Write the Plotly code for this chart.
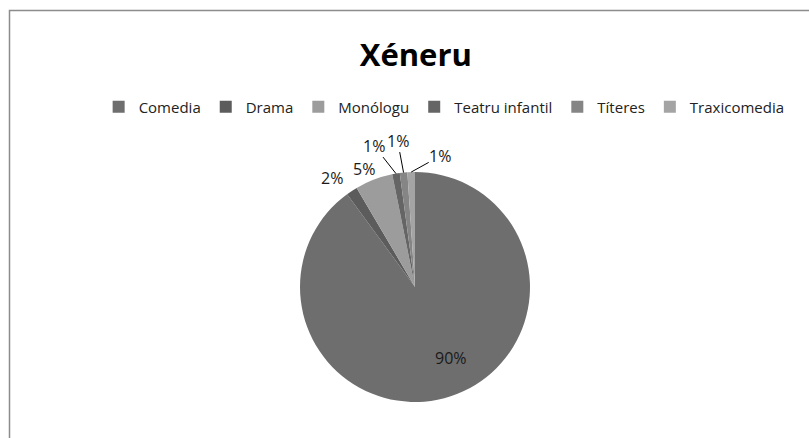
import math
import plotly.graph_objects as go

categories = ["Comedia", "Drama", "Monólogu", "Teatru infantil", "Títeres", "Traxicomedia"]
values = [170, 3, 10, 2, 2, 2]
colors = ["#6e6e6e", "#5c5c5c", "#9c9c9c", "#656565", "#858585", "#a4a4a4"]
title_text = "Xéneru"

# label placement (pixel offsets of each percentage label from its slice rim point)
label_dx = [0, -20, -10, -22, -6, 29]
label_dy = [-38, -13, -11, -28, -32, -16]
label_line = [False, False, False, True, True, True]

W, H = 809, 438
FONT = "Open Sans"

# pie domain in pixels
px0, px1 = 300, 530
py_top, py_bot = 172, 402
dom_x = [px0 / W, px1 / W]
dom_y = [(H - py_bot) / H, (H - py_top) / H]
cx, cy = (px0 + px1) / 2, (py_top + py_bot) / 2
R = min(px1 - px0, py_bot - py_top) / 2

fig = go.Figure()
fig.add_trace(go.Pie(
    labels=categories,
    values=values,
    marker=dict(colors=colors, line=dict(width=0)),
    sort=False,
    direction="clockwise",
    rotation=0,
    textinfo="none",
    domain=dict(x=dom_x, y=dom_y),
    hoverinfo="label+percent",
))

total = sum(values)
annotations = []
cum = 0
for i, v in enumerate(values):
    mid = (cum + v / 2) / total
    cum += v
    th = 2 * math.pi * mid
    rx = cx + R * math.sin(th)
    ry = cy - R * math.cos(th)
    pct = round(100 * v / total)
    annotations.append(dict(
        x=rx / W, y=1 - ry / H, xref="paper", yref="paper",
        text=f"{pct}%", showarrow=True, arrowhead=0, arrowwidth=1,
        arrowcolor="#000000" if label_line[i] else "rgba(0,0,0,0)",
        ax=label_dx[i], ay=label_dy[i], standoff=0, startstandoff=0,
        borderpad=0,
        font=dict(family=FONT, size=16, color="#1a1a1a"),
    ))

fig.update_layout(
    width=W, height=H,
    margin=dict(l=0, r=0, t=0, b=0),
    paper_bgcolor="white",
    plot_bgcolor="white",
    title=dict(text="<b>" + title_text + "</b>", x=0.514, xanchor="center",
               y=1 - 55 / H, yanchor="middle",
               font=dict(family=FONT, size=31, color="#000000")),
    legend=dict(orientation="h", x=0.549, xanchor="center", y=1 - 107 / H, yanchor="middle",
                font=dict(family=FONT, size=15, color="#222222"),
                itemwidth=30, tracegroupgap=0, itemclick=False),
    annotations=annotations,
    shapes=[dict(type="rect", xref="paper", yref="paper",
                 x0=9.5 / W, x1=1.2, y0=-0.2, y1=1 - 10.5 / H,
                 line=dict(color="#8c8c8c", width=1.5), fillcolor="rgba(0,0,0,0)", layer="below")],
)

fig.write_html("out.html")
